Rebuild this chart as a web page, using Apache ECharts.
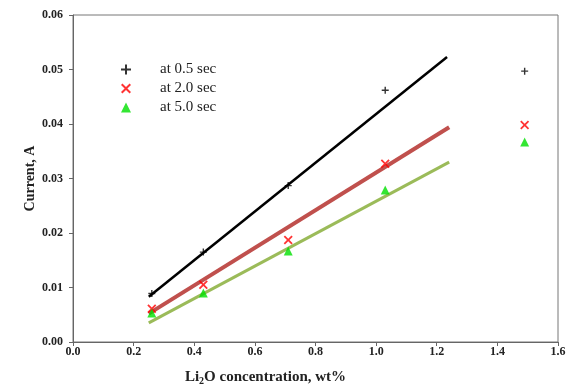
<!DOCTYPE html>
<html><head><meta charset="utf-8">
<script src="https://cdn.jsdelivr.net/npm/echarts@6/dist/echarts.min.js"></script>
<style>html,body{margin:0;padding:0;background:#fff}#c{width:568px;height:388px}</style>
</head><body><div id="c"></div>
<script>
var concentration = [0.26, 0.43, 0.71, 1.03, 1.49];
var current05 = [0.0089, 0.0165, 0.0287, 0.0462, 0.0497];
var current20 = [0.0061, 0.0105, 0.0187, 0.0327, 0.0398];
var current50 = [0.0053, 0.0090, 0.0167, 0.0279, 0.0367];
var fit05 = [[0.25, 0.0083], [1.234, 0.0523]];
var fit20 = [[0.25, 0.0052], [1.241, 0.0394]];
var fit50 = [[0.25, 0.0035], [1.241, 0.0330]];
var seriesNames = ['at 0.5 sec', 'at 2.0 sec', 'at 5.0 sec'];
var xTicks = [0, 0.2, 0.4, 0.6, 0.8, 1.0, 1.2, 1.4, 1.6];

function pairs(ys){ return concentration.map(function(x,i){ return [x, ys[i]]; }); }
var plus = 'path://M4,0H6V4H10V6H6V10H4V6H0V4H4Z';
var cross = 'path://M1.4,0L5,3.6L8.6,0L10,1.4L6.4,5L10,8.6L8.6,10L5,6.4L1.4,10L0,8.6L3.6,5L0,1.4Z';
var font = 'Liberation Serif';
var chart = echarts.init(document.getElementById('c'));
chart.setOption({
  animation: false,
  grid: {left: 73, right: 10, top: 15, bottom: 46, containLabel: false, outerBoundsMode: 'none',
    show: true, borderColor: '#777', borderWidth: 1},
  legend: {
    orient: 'vertical', left: 116, top: 57, itemGap: 4, itemWidth: 10, itemHeight: 10,
    data: [
      {name: seriesNames[0], icon: plus, itemStyle: {color: '#000'}},
      {name: seriesNames[1], icon: cross, itemStyle: {color: '#ff0000'}},
      {name: seriesNames[2], icon: 'triangle', itemStyle: {color: '#00e000'}}
    ],
    textStyle: {fontFamily: font, fontSize: 15, color: '#222', padding: [0, 0, 0, 24]}
  },
  xAxis: {
    type: 'value', min: 0, max: 1.6, interval: 0.2,
    axisLine: {lineStyle: {color: '#666'}},
    axisTick: {inside: false, length: 4, lineStyle: {color: '#666'}},
    splitLine: {show: false},
    axisLabel: {margin: 4, fontFamily: font, fontSize: 12, fontWeight: 'bold', color: '#222',
      formatter: function(v){ return v.toFixed(1); }},
    name: '{a|Li}{s|2}{a|O concentration, wt%}', nameLocation: 'middle', nameGap: 27,
    nameMoveOverlap: false,
    nameTextStyle: {padding: [0, 100, 0, 0], rich: {
      a: {fontFamily: font, fontSize: 15, fontWeight: 'bold', color: '#222'},
      s: {fontFamily: font, fontSize: 10, fontWeight: 'bold', color: '#222', verticalAlign: 'bottom', padding: [7,0,0,0]}
    }}
  },
  yAxis: {
    type: 'value', min: 0, max: 0.06, interval: 0.01,
    axisLine: {show: true, lineStyle: {color: '#666'}},
    axisTick: {show: true, inside: false, length: 4, lineStyle: {color: '#666'}},
    splitLine: {show: false},
    axisLabel: {margin: 10, fontFamily: font, fontSize: 12, fontWeight: 'bold', color: '#222',
      formatter: function(v){ return v.toFixed(2); }},
    name: 'Current, A', nameLocation: 'middle', nameGap: 36, nameMoveOverlap: false,
    nameTextStyle: {fontFamily: font, fontSize: 14, fontWeight: 'bold', color: '#222'}
  },
  series: [
    {type: 'line', data: fit05, symbol: 'none', silent: true, lineStyle: {color: '#000', width: 2.5}, z: 2},
    {type: 'line', data: fit20, symbol: 'none', silent: true, lineStyle: {color: '#c0504d', width: 4}, z: 2},
    {type: 'line', data: fit50, symbol: 'none', silent: true, lineStyle: {color: '#9bbb59', width: 3}, z: 2},
    {name: seriesNames[0], type: 'scatter', data: pairs(current05), symbol: plus, symbolSize: 7,
      itemStyle: {color: '#000'}, z: 5},
    {name: seriesNames[1], type: 'scatter', data: pairs(current20), symbol: cross, symbolSize: 9,
      itemStyle: {color: '#ff0000'}, z: 5},
    {name: seriesNames[2], type: 'scatter', data: pairs(current50), symbol: 'triangle', symbolSize: 9,
      itemStyle: {color: '#00e000'}, z: 5}
  ]
});
</script></body></html>
